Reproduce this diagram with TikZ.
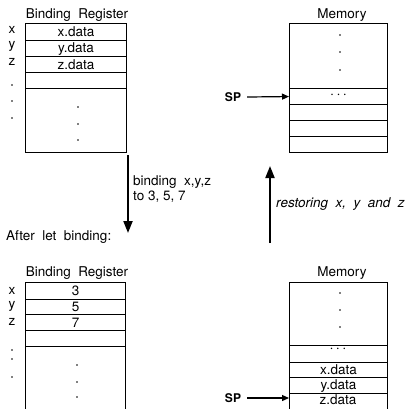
\documentclass[tikz,border=0pt]{standalone}
\usepackage{fontspec}
\setmainfont{TeX Gyre Heros}
\usetikzlibrary{arrows.meta}
\begin{document}
\begin{tikzpicture}[x=1pt,y=-1pt,
  txt/.style={font=\fontsize{13.5}{15}\selectfont, inner sep=0pt},
  cell/.style={draw, line width=1.1pt, inner sep=0pt, anchor=north west, font=\fontsize{13.5}{15}\selectfont},
  dotmark/.style={fill, circle, inner sep=0pt, minimum size=1.8pt},
  bigarrow/.style={line width=2pt, -{Triangle[length=12pt,width=9pt]}},
  sparrow/.style={line width=1.2pt, -{Triangle[length=7pt,width=6pt]}}]
\useasboundingbox (0,0) rectangle (409,408);

% ---------- top binding register ----------
\node[txt] (t1) at (77,15) {Binding\ \ Register};
\node[cell, minimum width=101pt, minimum height=17pt] (ra) at (25,23) {x.data};
\node[cell, minimum width=101pt, minimum height=16pt] (rb) at (25,40) {y.data};
\node[cell, minimum width=101pt, minimum height=16pt] (rc) at (25,56) {z.data};
\node[cell, minimum width=101pt, minimum height=16pt] (rd) at (25,72) {};
\node[cell, minimum width=101pt, minimum height=64pt] (re) at (25,88) {};
\node[txt] (lx) at (12,30) {x};
\node[txt] (ly) at (12,46) {y};
\node[txt] (lz) at (12,62) {z};
\node[dotmark] (d1) at (12,85) {};
\node[dotmark] (d2) at (12,101) {};
\node[dotmark] (d3) at (12,118) {};
\node[dotmark] (d4) at (78,107) {};
\node[dotmark] (d5) at (78,124) {};
\node[dotmark] (d6) at (78,140) {};

% ---------- top memory ----------
\node[txt] (t2) at (342,15) {Memory};
\node[cell, minimum width=98pt, minimum height=65pt] (ma) at (289,23) {};
\node[cell, minimum width=98pt, minimum height=16pt] (mb) at (289,88) {\raisebox{2pt}{$\cdots$}};
\node[cell, minimum width=98pt, minimum height=16pt] (mc) at (289,104) {};
\node[cell, minimum width=98pt, minimum height=16pt] (md) at (289,120) {};
\node[cell, minimum width=98pt, minimum height=16pt] (me) at (289,136) {};
\node[dotmark] (d7) at (340,35) {};
\node[dotmark] (d8) at (340,52) {};
\node[dotmark] (d9) at (340,70) {};
\node[txt, font=\fontsize{12}{14}\selectfont\bfseries] (sp1) at (233,97) {SP};
\draw[sparrow] (sp1.east) ++(6,0) -- (mb.west);

% ---------- middle arrows ----------
\coordinate (a1s) at (128,155);
\coordinate (a1e) at (128,233);
\draw[bigarrow] (a1s) -- (a1e);
\node[txt, anchor=west] (b1) at (133,182) {binding\ \ x,y,z};
\node[txt, anchor=west] (b2) at (133,197) {to 3, 5, 7};
\coordinate (a2s) at (270,243);
\coordinate (a2e) at (270,166);
\draw[bigarrow] (a2s) -- (a2e);
\node[txt, anchor=west, font=\fontsize{13.5}{15}\selectfont\itshape] (b3) at (276,204) {restoring\ \ x,\ \ y\ \ and\ \ z};
\node[txt, anchor=west] (b4) at (6,237) {After\ \ let\ \ binding:};

% ---------- bottom binding register ----------
\node[txt] (t3) at (77,273) {Binding\ \ Register};
\node[cell, minimum width=100pt, minimum height=17pt] (sa) at (25,282) {3};
\node[cell, minimum width=100pt, minimum height=15pt] (sb) at (25,299) {5};
\node[cell, minimum width=100pt, minimum height=16pt] (sc) at (25,314) {7};
\node[cell, minimum width=100pt, minimum height=16pt] (sd) at (25,330) {};
\node[cell, minimum width=100pt, minimum height=70pt] (se) at (25,346) {};
\node[txt] (mx) at (12,291) {x};
\node[txt] (my) at (12,306) {y};
\node[txt] (mz) at (12,322) {z};
\node[dotmark] (e1) at (12,350) {};
\node[dotmark] (e2) at (12,359) {};
\node[dotmark] (e3) at (12,377) {};
\node[dotmark] (e4) at (77,365) {};
\node[dotmark] (e5) at (77,382) {};
\node[dotmark] (e6) at (77,397) {};

% ---------- bottom memory ----------
\node[txt] (t4) at (342,273) {Memory};
\node[cell, minimum width=98pt, minimum height=63pt] (na) at (289,282) {};
\node[cell, minimum width=98pt, minimum height=17pt] (nb) at (289,345) {};
\node[txt] (ndots) at (338,349) {$\cdots$};
\node[cell, minimum width=98pt, minimum height=15pt] (nc) at (289,362) {x.data};
\node[cell, minimum width=98pt, minimum height=16pt] (nd) at (289,377) {y.data};
\node[cell, minimum width=98pt, minimum height=20pt] (ne) at (289,393) {};
\node[txt] (zd) at (338,399.5) {z.data};
\node[dotmark] (e7) at (340,293) {};
\node[dotmark] (e8) at (340,310) {};
\node[dotmark] (e9) at (340,327) {};
\node[txt, font=\fontsize{12}{14}\selectfont\bfseries] (sp2) at (233,398) {SP};
\draw[sparrow] (sp2.east) ++(6,0) -- (ne.west |- sp2);
\end{tikzpicture}
\end{document}
